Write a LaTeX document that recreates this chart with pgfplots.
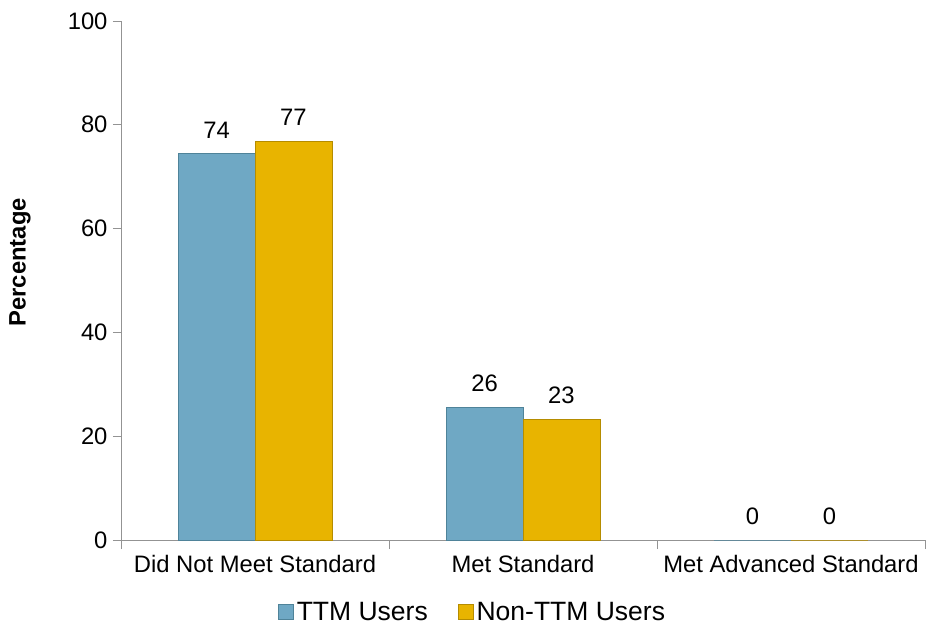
\documentclass[border=0pt]{standalone}
\usepackage{pgfplots}
\pgfplotsset{compat=1.18}
\usepackage{fontspec}
\setmainfont{Liberation Sans}
\definecolor{ttm}{HTML}{6FA8C4}
\definecolor{ttmedge}{HTML}{4F8399}
\definecolor{nonttm}{HTML}{E8B400}
\definecolor{nonttmedge}{HTML}{B58C00}
\newcommand\fs{\fontsize{23.8bp}{28bp}\selectfont}
\newcommand\fl{\fontsize{26.5bp}{30bp}\selectfont}
\begin{document}
\begin{tikzpicture}
\begin{axis}[name=ax, scale only axis, width=804bp, height=519bp,
  xmin=-0.5, xmax=2.5, ymin=0, ymax=100,
  ytick={0,20,...,100},
  xtick={0,1,2},
  xticklabels={Did Not Meet Standard, Met Standard, Met Advanced Standard},
  minor xtick={-0.5,0.5,1.5,2.5},
  major x tick style={draw=none},
  minor tick length=9bp, major tick length=8bp,
  tick align=outside,
  axis lines*=left,
  axis line style={draw=gray!85, line width=0.8pt},
  tick style={draw=gray!85, line width=0.8pt},
  tick label style={font=\fs},
  /pgf/number format/assume math mode=true,
  xticklabel style={yshift=-4bp},
  yticklabel style={xshift=-2bp},
  ylabel={Percentage},
  every axis y label/.style={at={(axis description cs:-0.1256,0.535)}, rotate=90, anchor=center, font=\fs\bfseries},
  ybar=0pt, bar width=0.287,
  nodes near coords,
  nodes near coords style={font=\fs, yshift=12bp, /pgf/number format/.cd, fixed, precision=0},
  legend style={at={(axis description cs:0.1953,-0.139)}, anchor=west, draw=none, fill=none, font=\fl, legend columns=2,
    inner sep=0pt, outer sep=0pt,
    /tikz/every odd column/.append style={column sep=1bp},
    /tikz/every even column/.append style={column sep=28bp}},
  legend image code/.code={\draw[#1] (0bp,-7.5bp) rectangle (15bp,7.5bp);},
]
\addplot[fill=ttm, draw=ttmedge, line width=0.8pt] coordinates {(0,74.4) (1,25.6) (2,0)};
\addplot[fill=nonttm, draw=nonttmedge, line width=0.8pt] coordinates {(0,76.8) (1,23.2) (2,0)};
\legend{TTM Users, Non-TTM Users}
\end{axis}
\pgfresetboundingbox
\path[use as bounding box] ([xshift=-121bp,yshift=-89bp]ax.south west) rectangle ([xshift=1bp,yshift=21bp]ax.north east);
\end{tikzpicture}
\end{document}
